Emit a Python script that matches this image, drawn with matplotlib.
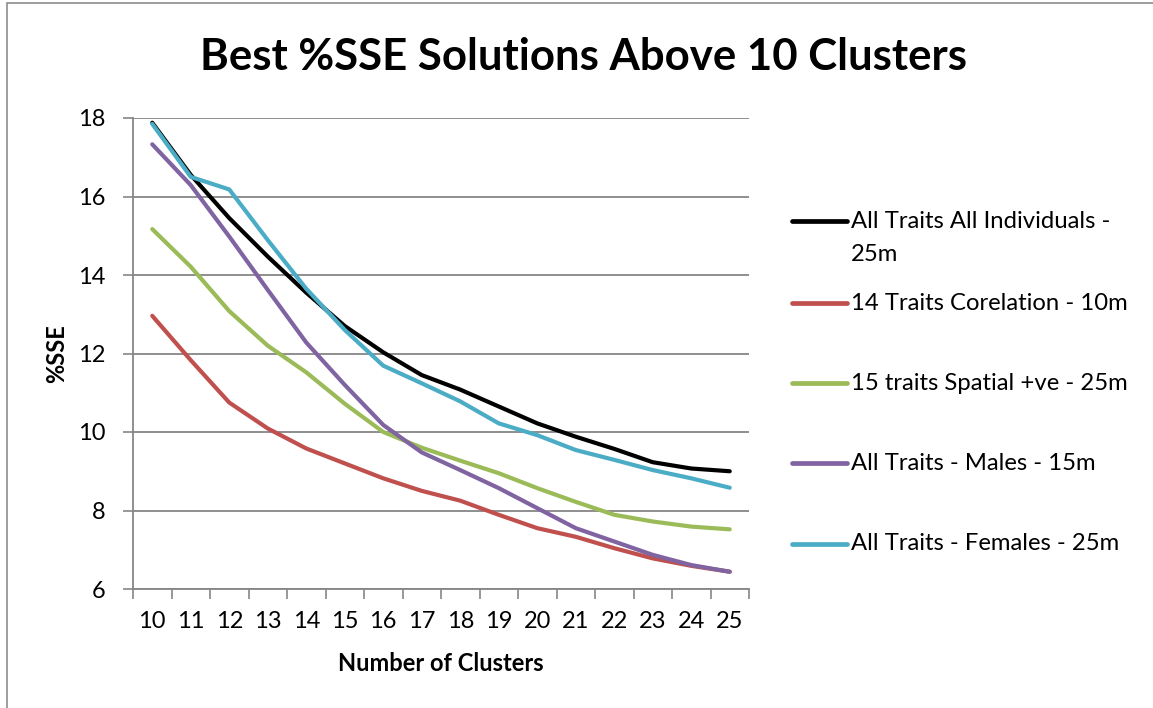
import matplotlib
matplotlib.use("Agg")
import matplotlib.pyplot as plt
from matplotlib.lines import Line2D
from matplotlib.patches import Rectangle

# ── data ──────────────────────────────────────────────────────────────────────
clusters = list(range(10, 26))

all_individuals = [17.88, 16.55, 15.45, 14.47, 13.55, 12.70, 12.03, 11.45,
                   11.08, 10.65, 10.22, 9.88, 9.57, 9.23, 9.07, 9.00]
corelation_14 = [12.96, 11.83, 10.75, 10.09, 9.58, 9.20, 8.82, 8.50,
                 8.25, 7.89, 7.55, 7.33, 7.04, 6.78, 6.59, 6.44]
spatial_15 = [15.17, 14.21, 13.08, 12.20, 11.52, 10.72, 10.00, 9.60,
              9.27, 8.95, 8.57, 8.22, 7.89, 7.72, 7.59, 7.52]
males = [17.33, 16.29, 14.98, 13.62, 12.28, 11.20, 10.18, 9.48,
         9.03, 8.57, 8.06, 7.55, 7.21, 6.87, 6.61, 6.44]
females = [17.85, 16.50, 16.18, 14.89, 13.65, 12.60, 11.69, 11.24,
           10.78, 10.22, 9.92, 9.54, 9.29, 9.03, 8.82, 8.58]

series_labels = ["All Traits All Individuals -\n25m",
                 "14 Traits Corelation - 10m",
                 "15 traits Spatial +ve - 25m",
                 "All Traits - Males - 15m",
                 "All Traits - Females - 25m"]
series_values = [all_individuals, corelation_14, spatial_15, males, females]
series_colors = ["#000000", "#C0504D", "#9BBB59", "#8064A2", "#4BACC6"]

y_ticks = [6, 8, 10, 12, 14, 16, 18]
# ──────────────────────────────────────────────────────────────────────────────

FONT = ["Lato", "DejaVu Sans"]
GRID = "#868686"
W, H = 1153, 708

fig = plt.figure(figsize=(W / 100, H / 100), dpi=100)
fig.patches.append(Rectangle((7 / W, -0.1), 1.2, 1.1 - 3 / H, transform=fig.transFigure,
                             fill=False, edgecolor="#8c8c8c", linewidth=1.2))

ax = fig.add_axes([133 / W, 1 - 589 / H, (749 - 133) / W, (589 - 118) / H])

xpos = list(range(len(clusters)))
for vals, col in zip(series_values, series_colors):
    ax.plot(xpos, vals, color=col, linewidth=3.0, solid_capstyle="round",
            solid_joinstyle="round", zorder=3)

ax.set_xlim(-0.5, len(clusters) - 0.5)
ax.set_ylim(6, 18)
ax.set_yticks(y_ticks)
ax.set_yticklabels([str(t) for t in y_ticks], family=FONT, fontsize=17)
ax.set_xticks(xpos)
ax.set_xticklabels([str(c) for c in clusters], family=FONT, fontsize=17)
ax.set_xticks([p + 0.5 for p in [-1] + xpos], minor=True)
ax.tick_params(axis="x", which="major", length=0, pad=16)
ax.tick_params(axis="x", which="minor", length=7, width=1.2, color=GRID)
ax.tick_params(axis="y", length=7, width=1.2, color=GRID, pad=13)

ax.grid(axis="y", color=GRID, linewidth=1.3, zorder=0)
for side in ("top", "right"):
    ax.spines[side].set_visible(False)
for side in ("left", "bottom"):
    ax.spines[side].set_color(GRID)
    ax.spines[side].set_linewidth(1.3)

ax.set_xlabel("Number of Clusters", family=FONT, fontsize=17, fontweight="bold", labelpad=14)
ax.set_ylabel("%SSE", family=FONT, fontsize=17, fontweight="bold", labelpad=7)

fig.text(583 / W, 1 - 57 / H, "Best %SSE Solutions Above 10 Clusters", family=FONT,
         fontsize=31.5, fontweight="bold", ha="center", va="center")

# legend drawn by hand so the wrapped first entry keeps the spacing
entry_y = [221, 303, 383, 463, 544]
for yy, lab, col in zip(entry_y, series_labels, series_colors):
    fig.add_artist(Line2D([792 / W, 847 / W], [1 - yy / H, 1 - yy / H], color=col,
                          linewidth=3.4, solid_capstyle="round", transform=fig.transFigure))
    for i, part in enumerate(lab.split("\n")):
        fig.text(851 / W, 1 - (yy + 34 * i) / H, part, family=FONT, fontsize=17.2,
                 ha="left", va="center")

fig.savefig("out.png", dpi=100)
